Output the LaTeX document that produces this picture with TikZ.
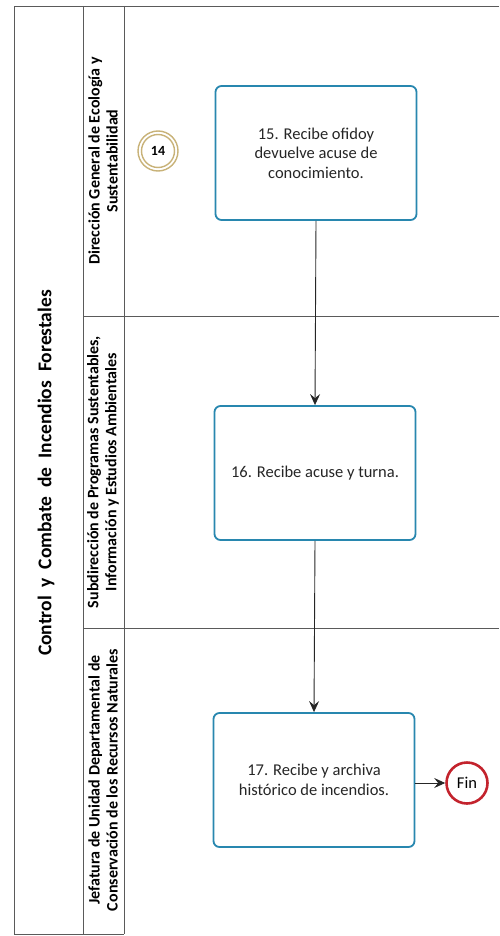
\documentclass[tikz,border=0pt]{standalone}
\usepackage{fontspec}
\setmainfont{Carlito}
\usetikzlibrary{arrows.meta}
\definecolor{frameline}{RGB}{90,90,90}
\definecolor{taskblue}{RGB}{40,135,175}
\definecolor{startgold}{RGB}{200,178,120}
\definecolor{endred}{RGB}{195,35,45}
\begin{document}
\begin{tikzpicture}[x=1pt,y=-1pt,
  lanefmt/.style={draw=frameline,line width=0.9pt},
  lanelabel/.style={rotate=90,align=center,font=\bfseries\fontsize{16}{18}\selectfont,inner sep=0pt},
  task/.style={draw=taskblue,line width=1.8pt,rounded corners=6pt,fill=white,
    minimum width=201pt,minimum height=134pt,align=center,
    font=\fontsize{16.5}{19.5}\selectfont,text=black!85},
  flow/.style={draw=black!85,line width=0.9pt,-{Stealth[length=11pt,width=10pt,inset=4pt]}}
]
\useasboundingbox (0,0) rectangle (499,936);
% pool frame and lanes
\draw[lanefmt] (499,6) -- (14,6) -- (14,934) -- (124,934);
\draw[lanefmt] (83,6) -- (83,934);
\draw[lanefmt] (124,6) -- (124,934);
\draw[lanefmt] (83,316) -- (499,316);
\draw[lanefmt] (83,628) -- (499,628);
% pool title
\node[rotate=90,font=\bfseries\fontsize{19.5}{22}\selectfont,inner sep=0pt] (pooltitle) at (46,473)
  {Control\ \ y\ \ Combate\ \ de\ \ Incendios\ \ Forestales};
% lane headers
\node[lanelabel] (laneA) at (103,161) {Dirección General de Ecología y\\Sustentabilidad};
\node[lanelabel] (laneB) at (103,472) {Subdirección de Programas Sustentables,\\Información y Estudios Ambientales};
\node[lanelabel] (laneC) at (103,780) {Jefatura de Unidad Departamental de\\Conservación de los Recursos Naturales};
% link event from the previous page
\node[circle,draw=startgold,line width=1.4pt,minimum size=40pt,inner sep=0pt] (linkout) at (158,151) {};
\node[circle,draw=startgold,line width=1.4pt,minimum size=33pt,inner sep=0pt,
  font=\bfseries\fontsize{14}{16}\selectfont] (linkin) at (158,151) {14};
% tasks
\node[task] (t15) at (316,153) {15. Recibe ofidoy\\devuelve acuse de\\conocimiento.};
\node[task] (t16) at (315,473) {16. Recibe acuse y turna.};
\node[task] (t17) at (314,780) {17. Recibe y archiva\\histórico de incendios.};
% end event
\node[circle,draw=endred,line width=2.6pt,minimum size=41pt,inner sep=0pt,
  font=\fontsize{16.5}{18}\selectfont] (fin) at (467,783) {Fin};
% sequence flows
\draw[flow] (t15.south) -- (t16.north);
\draw[flow] (t16.south) -- (t17.north);
\draw[flow] (t17.east |- fin.west) -- (fin.west);
\end{tikzpicture}
\end{document}
